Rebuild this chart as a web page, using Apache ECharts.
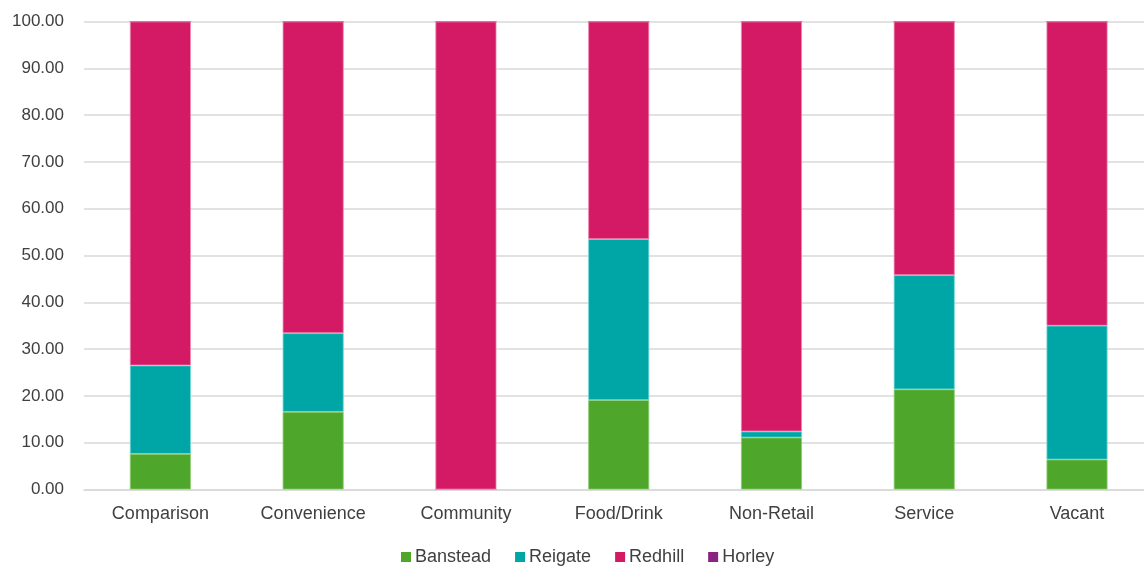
<!DOCTYPE html>
<html>
<head>
<meta charset="utf-8">
<style>
  html, body { margin: 0; padding: 0; background: #ffffff; overflow: hidden; }
  /* the plot runs slightly past the right edge of the window */
  #chart { width: 1154px; height: 569px; }
</style>
<script src="https://cdn.jsdelivr.net/npm/echarts@6/dist/echarts.min.js"></script>
</head>
<body>
<div id="chart"></div>
<script>
// Share of units by town (%), per use class
const categories = ['Comparison', 'Convenience', 'Community', 'Food/Drink', 'Non-Retail', 'Service', 'Vacant'];
const banstead = [7.6, 16.6, 0, 19.1, 11.1, 21.4, 6.4];
const reigate  = [18.9, 16.8, 0, 34.4, 1.3, 24.4, 28.6];
const redhill  = [73.5, 66.6, 100, 46.5, 87.6, 54.2, 65.0];
const horley   = [0, 0, 0, 0, 0, 0, 0];
const yTicks = { min: 0, max: 100, interval: 10 };

const FONT = '"Liberation Sans", Arial, sans-serif';
const TEXT = '#404040';

function bar(name, data, color, edge) {
  return {
    name: name,
    type: 'bar',
    stack: 'share',
    barWidth: 61,
    data: data,
    itemStyle: { color: color, borderColor: edge, borderWidth: 0.8 },
    emphasis: { disabled: true }
  };
}

const chart = echarts.init(document.getElementById('chart'), null, { renderer: 'canvas' });
chart.setOption({
  animation: false,
  backgroundColor: '#ffffff',
  grid: { left: 84, top: 21.5, bottom: 79.5, right: 0.6, containLabel: false },
  legend: {
    bottom: -2,
    left: 396,
    itemWidth: 10,
    itemHeight: 10,
    itemGap: 24,
    icon: 'rect',
    itemStyle: { borderWidth: 0 },
    textStyle: { fontFamily: FONT, fontSize: 18, color: TEXT, padding: [0, 0, 0, -1] },
    data: ['Banstead', 'Reigate', 'Redhill', 'Horley']
  },
  xAxis: {
    type: 'category',
    data: categories,
    axisTick: { show: false },
    axisLine: { show: true, lineStyle: { color: '#d9d9d9', width: 1.5 } },
    axisLabel: { fontFamily: FONT, fontSize: 18, color: TEXT, margin: 16 }
  },
  yAxis: {
    type: 'value',
    min: yTicks.min,
    max: yTicks.max,
    interval: yTicks.interval,
    axisLine: { show: false },
    axisTick: { show: false },
    splitLine: { lineStyle: { color: '#d9d9d9', width: 1.5 } },
    axisLabel: {
      fontFamily: FONT, fontSize: 17, color: TEXT, margin: 20,
      formatter: v => v.toFixed(2)
    }
  },
  series: [
    bar('Banstead', banstead, '#4ea72a', '#8fce74'),
    bar('Reigate', reigate, '#00a6a6', '#6fd6d6'),
    bar('Redhill', redhill, '#d51a65', '#ec86ad'),
    bar('Horley', horley, '#8b2383', '#b97ab3')
  ]
});
</script>
</body>
</html>
